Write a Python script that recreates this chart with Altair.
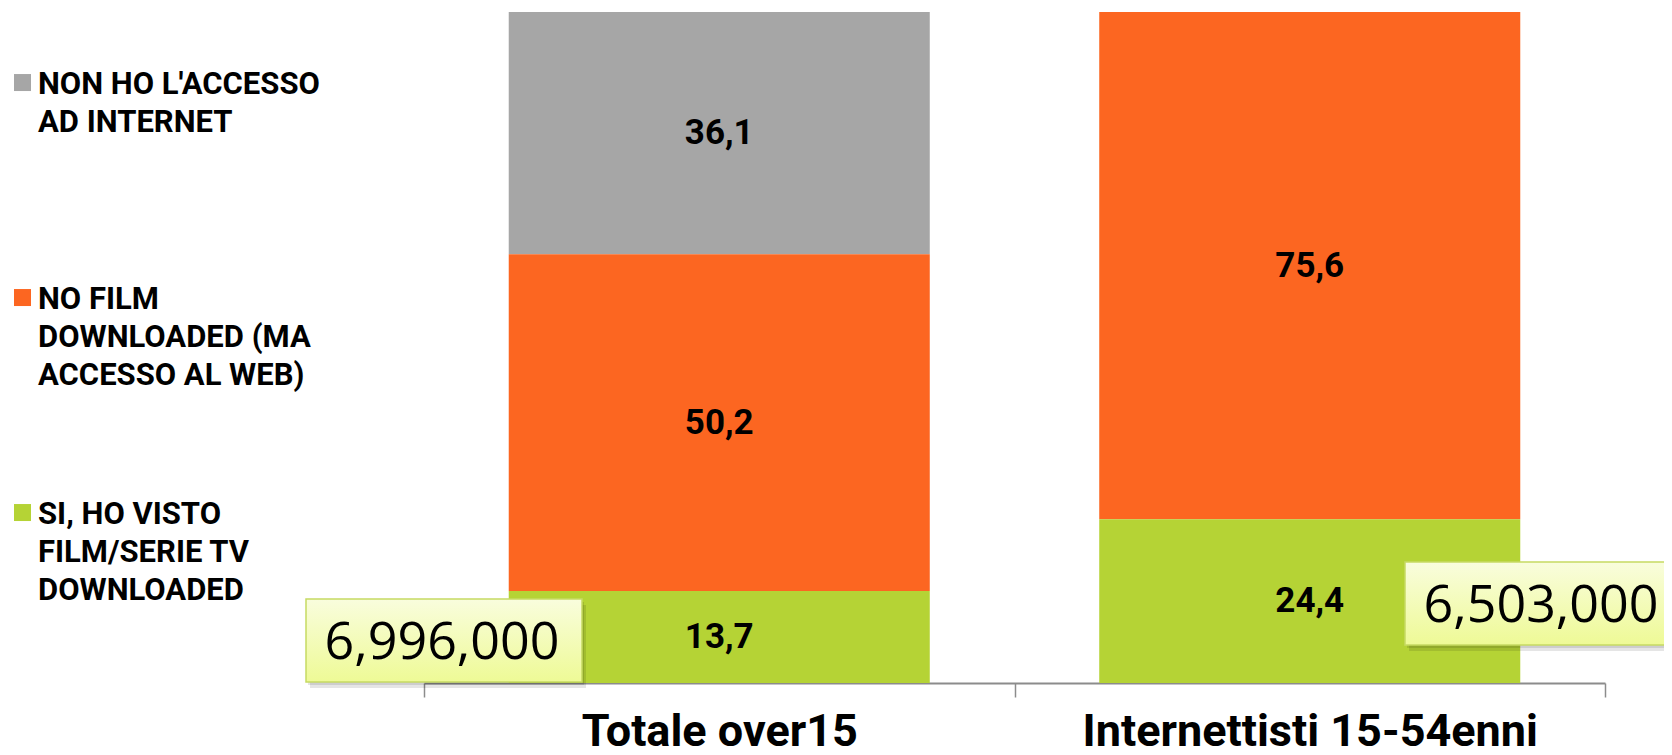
import json
import altair as alt
import pandas as pd

# ---------------- data ----------------
categories = ["Totale over15", "Internettisti 15-54enni"]
series = [
    "NON HO L'ACCESSO AD INTERNET",
    "NO FILM DOWNLOADED (MA ACCESSO AL WEB)",
    "SI, HO VISTO FILM/SERIE TV DOWNLOADED",
]
series_lines = [
    ["NON HO L'ACCESSO", "AD INTERNET"],
    ["NO FILM", "DOWNLOADED (MA", "ACCESSO AL WEB)"],
    ["SI, HO VISTO", "FILM/SERIE TV", "DOWNLOADED"],
]
no_access = [36.1, 0.0]
no_film = [50.2, 75.6]
si_visto = [13.7, 24.4]
viewers = [6996000, 6503000]
colors = ["#a6a6a6", "#fc6621", "#b5d335"]

rows = []
for i, c in enumerate(categories):
    for k, (s, vals) in enumerate(zip(series, [no_access, no_film, si_visto])):
        if vals[i] > 0:
            rows.append({"cat": c, "series": s, "value": vals[i], "order": 2 - k})
df = pd.DataFrame(rows)
df_call = pd.DataFrame({"cat": categories, "viewers": viewers})

# ---------------- helpers ----------------
label_expr = "datum.label"
for s, lines in zip(reversed(series), reversed(series_lines)):
    label_expr = f"datum.label == {json.dumps(s)} ? {json.dumps(lines)} : ({label_expr})"

sym_path = "M-1,-2.29L1,-2.29L1,-0.29L-1,-0.29Z"

x_enc = alt.X(
    "cat:N",
    sort=categories,
    scale=alt.Scale(domain=categories, paddingInner=0, paddingOuter=0),
    axis=alt.Axis(
        title=None,
        labelAngle=0,
        labelFont="Roboto",
        labelFontWeight="bold",
        labelFontSize=45,
        labelColor="black",
        labelPadding=12,
        labelLimit=800,
        tickBand="extent",
        tickSize=14,
        tickColor="#8c8c8c",
        tickWidth=1.5,
        domainColor="#8c8c8c",
        domainWidth=2,
        grid=False,
    ),
)
y_scale = alt.Scale(domain=[0, 100], nice=False, zero=True)

bars = alt.Chart(df).mark_bar(width=alt.RelativeBandSize(0.713)).encode(
    x=x_enc,
    y=alt.Y("value:Q", stack="zero", scale=y_scale, axis=None),
    color=alt.Color(
        "series:N",
        scale=alt.Scale(domain=series, range=colors),
        legend=alt.Legend(
            orient="none",
            legendX=-417,
            legendY=66,
            direction="vertical",
            title=None,
            symbolType=sym_path,
            symbolSize=289,
            symbolStrokeWidth=0,
            symbolOpacity=1,
            labelFont="Roboto",
            labelFontWeight="bold",
            labelFontSize=31,
            labelColor="black",
            labelBaseline="alphabetic",
            labelLimit=600,
            labelOffset=0,
            rowPadding=107,
            gridAlign="all",
            padding=0,
            labelExpr=label_expr,
        ),
    ),
    order=alt.Order("order:Q"),
)

labels = (
    alt.Chart(df)
    .transform_stack(
        stack="value",
        groupby=["cat"],
        sort=[alt.SortField("order", order="ascending")],
        as_=["y0", "y1"],
    )
    .transform_calculate(
        mid="(datum.y0 + datum.y1) / 2",
        lbl="replace(format(datum.value, '.1f'), '.', ',')",
    )
    .mark_text(font="Roboto", fontWeight="bold", fontSize=35, color="black", baseline="middle")
    .encode(x=x_enc, y=alt.Y("mid:Q", scale=y_scale, axis=None), text="lbl:N")
)

grad = alt.Gradient(
    gradient="linear",
    stops=[
        alt.GradientStop(color="#f9fddd", offset=0),
        alt.GradientStop(color="#eefa96", offset=1),
    ],
    x1=0, x2=0, y1=0, y2=1,
)


def callout(cat, x1, x2, y1, y2, tx, ty):
    src = alt.Chart(df_call).transform_filter(alt.datum.cat == cat)
    sh1 = src.mark_rect(color="#000000", opacity=0.10).encode(
        x=alt.value(x1 + 2), x2=alt.value(x2 + 2), y=alt.value(y1 + 3), y2=alt.value(y2 + 3)
    )
    sh2 = src.mark_rect(color="#000000", opacity=0.10).encode(
        x=alt.value(x1 + 4), x2=alt.value(x2 + 4), y=alt.value(y1 + 6), y2=alt.value(y2 + 6)
    )
    box = src.mark_rect(fill=grad, stroke="#c6da63", strokeWidth=1.5).encode(
        x=alt.value(x1), x2=alt.value(x2), y=alt.value(y1), y2=alt.value(y2)
    )
    txt = src.mark_text(
        font="Open Sans", fontSize=52, color="black", align="center", baseline="middle"
    ).encode(x=alt.value(tx), y=alt.value(ty), text=alt.Text("viewers:Q", format=",d"))
    return [sh1, sh2, box, txt]


layers = [bars, labels]
layers += callout(categories[0], -118, 158, 587, 670, 18, 631)
layers += callout(categories[1], 981, 1270, 550, 633, 1117, 594)

chart = (
    alt.layer(*layers)
    .properties(
        width=1181,
        height=671,
        autosize=alt.AutoSizeParams(type="none"),
        padding={"left": 416, "top": 4, "right": 59, "bottom": 64},
        background="white",
    )
    .configure(
        style={"guide-label": {"lineHeight": 38}},
        view=alt.ViewConfig(stroke=None),
    )
)

chart.save("out.html", embed_options={"renderer": "svg", "actions": False})
